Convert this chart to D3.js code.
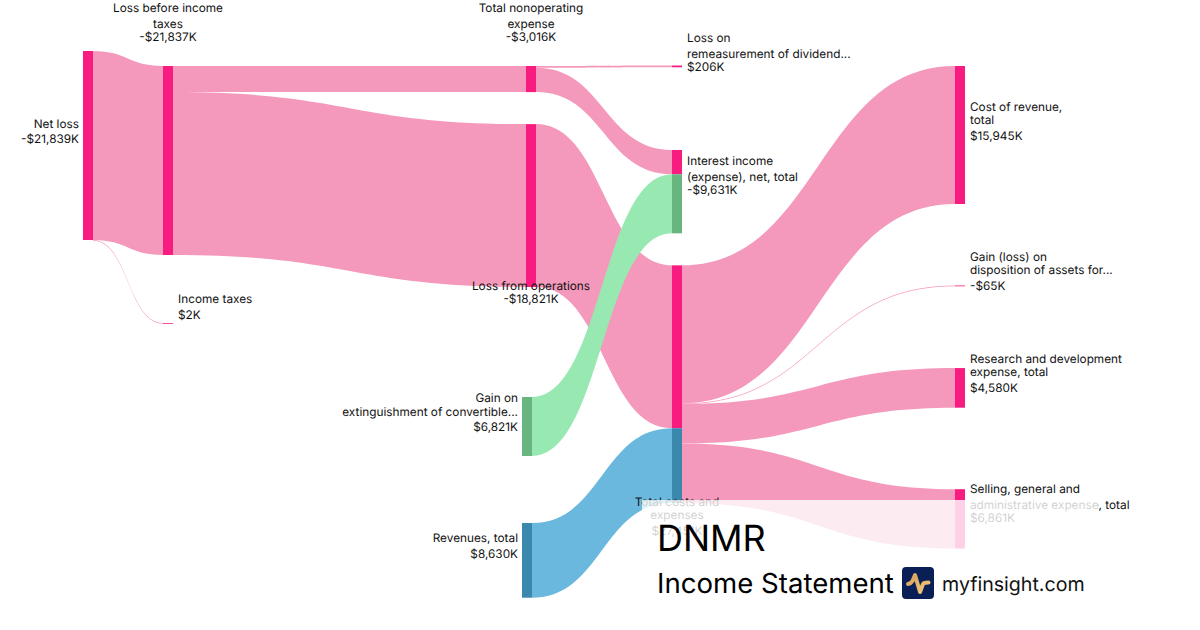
<!DOCTYPE html>
<html>
<head>
<meta charset="utf-8">
<script src="https://cdn.jsdelivr.net/npm/d3@7"></script>
<style>
  html, body { margin: 0; background: #fff; }
  svg { display: block; font-family: Inter, sans-serif; text-rendering: geometricPrecision; }
  .lbl { font-size: 11.8px; fill: #111; }
</style>
</head>
<body>
<svg id="chart" width="1200" height="630"></svg>
<script>
// Values in $K
const nodeNames = ['Net loss', 'Loss before income taxes', 'Income taxes', 'Total nonoperating expense',
  'Loss from operations', 'Gain on extinguishment', 'Revenues, total', 'Loss on remeasurement',
  'Interest income', 'Total costs and expenses', 'Cost of revenue', 'Gain (loss) on disposition',
  'Research and development', 'Selling, general'];
const nodeColumns = [0, 1, 1, 2, 2, 2, 2, 3, 3, 3, 4, 4, 4, 4];
const nodeValues = [21839, 21837, 2, 3016, 18821, 6821, 8630, 206, 9631, 27451, 15945, 65, 4580, 6861];
const valueLabels = ['-$21,839K', '-$21,837K', '$2K', '-$3,016K', '-$18,821K', '$6,821K', '$8,630K',
  '$206K', '-$9,631K', '$27,451K', '$15,945K', '-$65K', '$4,580K', '$6,861K'];
const labelLines = [
  ['Net loss'],
  ['Loss before income', 'taxes'],
  ['Income taxes'],
  ['Total nonoperating', 'expense'],
  ['Loss from operations'],
  ['Gain on', 'extinguishment of convertible...'],
  ['Revenues, total'],
  ['Loss on', 'remeasurement of dividend...'],
  ['Interest income', '(expense), net, total'],
  ['Total costs and', 'expenses'],
  ['Cost of revenue,', 'total'],
  ['Gain (loss) on', 'disposition of assets for...'],
  ['Research and development', 'expense, total'],
  ['Selling, general and', 'administrative expense, total']
];
const linkSources = [0, 0, 1, 1, 3, 3, 5, 4, 6, 9, 9, 9, 9];
const linkTargets = [1, 2, 3, 4, 7, 8, 8, 9, 9, 10, 11, 12, 13];
const linkValues = [21837, 2, 3016, 18821, 206, 2810, 6821, 18821, 8630, 15945, 65, 4580, 6861];
const linkKinds = ['loss', 'loss', 'loss', 'loss', 'loss', 'loss', 'gain', 'loss', 'rev', 'loss', 'loss', 'loss', 'loss'];

// Layout
const W = 1200, H = 630;
const NODE_W = 10;
const MIN_H = 0.8; // hairline flows stay visible
const colX = d3.scaleLinear().domain([0, 1, 2, 3, 4]).range([83, 163, 526, 672, 955]);
const nodeDx = [0, 0, 0, 0, 0, -4, -4, 0, 0, 0, 0, 0, 0, 0];
// space above each node inside its column, px
const nodeGap = [51, 66, 68, 66, 32, 110, 67, 65.5, 82.7, 32, 66, 81.5, 82, 81.5];
const valueH = d3.scaleLinear().domain([0, 21839]).range([0, 189]);

const nodeFill = { loss: '#f91c80', gain: '#68b57f', rev: '#3b88ae' };
const linkFill = { loss: '#f599bc', gain: '#98e8b1', rev: '#6ab8dd' };

// [x offset from the node, anchor, baseline of first line rel. to node centre, line steps]
const labelPlace = [
  [-4, 'end', -18, [15.5]],
  [5, 'middle', -148, [15.5, 13.5]],
  [15, 'start', -19.5, [16]],
  [5, 'middle', -67, [15.5, 13.5]],
  [5, 'middle', 84.5, [13]],
  [-4, 'end', -24.5, [14, 15.5]],
  [-4, 'end', -18, [16]],
  [15, 'start', -24, [15.5, 13.5]],
  [15, 'start', -27, [16, 13]],
  [5, 'middle', 122, [13, 16]],
  [15, 'start', -24, [13, 16]],
  [15, 'start', -24.5, [13, 16]],
  [15, 'start', -24.5, [13, 16]],
  [15, 'start', -25.5, [16, 13]]
];

const svg = d3.select('#chart');

// stack nodes per column
const colBottom = {};
const nodes = nodeNames.map((name, i) => {
  const c = nodeColumns[i];
  const y0 = (colBottom[c] || 0) + nodeGap[i];
  const y1 = y0 + valueH(nodeValues[i]);
  colBottom[c] = y1;
  const x0 = colX(c) + nodeDx[i];
  return { i, name, x0, x1: x0 + NODE_W, y0, y1, outY: y0, inY: y0 };
});

// stack links on their nodes
const links = linkValues.map((v, i) => {
  const s = nodes[linkSources[i]], t = nodes[linkTargets[i]];
  const h = valueH(v);
  const l = { s, t, h, kind: linkKinds[i], sy: s.outY, ty: t.inY };
  s.outY += h;
  t.inY += h;
  return l;
});

// ribbon of constant vertical thickness between the two nodes
const ribbon = d3.area()
  .curve(d3.curveBumpX)
  .x(d => d.x)
  .y0(d => d.y)
  .y1(d => d.y + d.h);

const linkLayer = svg.append('g');
// pink flows first, the green and blue ones run over them
const drawOrder = links.slice().sort((a, b) => (a.kind === 'loss' ? 0 : 1) - (b.kind === 'loss' ? 0 : 1));
linkLayer.selectAll('path').data(drawOrder).join('path')
  .attr('d', d => {
    const h = Math.max(d.h, MIN_H);
    return ribbon([{ x: d.s.x1, y: d.sy, h }, { x: d.t.x0, y: d.ty, h }]);
  })
  .attr('fill', d => linkFill[d.kind]);

// nodes: one rect per incoming flow, so that mixed nodes show their parts
const segs = [];
nodes.forEach(n => {
  const inc = links.filter(l => l.t === n);
  if (inc.length) {
    let y = n.y0;
    inc.forEach(l => { segs.push({ n, y, h: l.h, kind: l.kind }); y += l.h; });
  } else {
    segs.push({ n, y: n.y0, h: n.y1 - n.y0, kind: links.find(l => l.s === n).kind });
  }
});

svg.append('g').selectAll('rect').data(segs).join('rect')
  .attr('x', d => d.n.x0)
  .attr('y', d => d.y)
  .attr('width', NODE_W)
  .attr('height', d => Math.max(d.h, MIN_H))
  .attr('fill', d => nodeFill[d.kind]);

// labels
const lbl = svg.append('g').selectAll('text').data(nodes).join('text')
  .attr('class', 'lbl')
  .attr('text-anchor', d => labelPlace[d.i][1]);

lbl.each(function (d) {
  const [dx, , dy, steps] = labelPlace[d.i];
  const x = d.x0 + dx;
  let y = (d.y0 + d.y1) / 2 + dy;
  const lines = labelLines[d.i].concat(valueLabels[d.i]);
  const t = d3.select(this);
  lines.forEach((s, k) => {
    t.append('tspan').attr('x', x).attr('y', y).text(s);
    y += steps[k] || 0;
  });
});

// title block, half covering the chart underneath
svg.append('rect')
  .attr('x', 642).attr('y', 500).attr('width', 456).attr('height', 130)
  .attr('fill', '#fff').attr('fill-opacity', 0.8);

svg.append('text').attr('x', 657).attr('y', 551)
  .attr('font-size', 36).attr('fill', '#000').text('DNMR');
svg.append('text').attr('x', 657).attr('y', 593)
  .attr('font-size', 27.6).attr('fill', '#000').text('Income Statement');
svg.append('text').attr('x', 942).attr('y', 591)
  .attr('font-size', 19.6).attr('fill', '#111').text('myfinsight.com');

const logo = svg.append('g').attr('transform', 'translate(902,567)');
logo.append('rect').attr('width', 32).attr('height', 32).attr('rx', 4).attr('fill', '#0a1f55');
const grad = svg.append('defs').append('linearGradient').attr('id', 'pulse')
  .attr('x1', 0).attr('y1', 0).attr('x2', 1).attr('y2', 1);
grad.append('stop').attr('offset', 0).attr('stop-color', '#d9a05e');
grad.append('stop').attr('offset', 1).attr('stop-color', '#f2c878');
logo.append('path')
  .attr('d', 'M6 17 Q9 16.5 10.5 14 L13 8 L18 25 L21 17 Q22 15.5 26.5 15.5')
  .attr('fill', 'none').attr('stroke', 'url(#pulse)').attr('stroke-width', 4)
  .attr('stroke-linejoin', 'round').attr('stroke-linecap', 'round');
</script>
</body>
</html>
